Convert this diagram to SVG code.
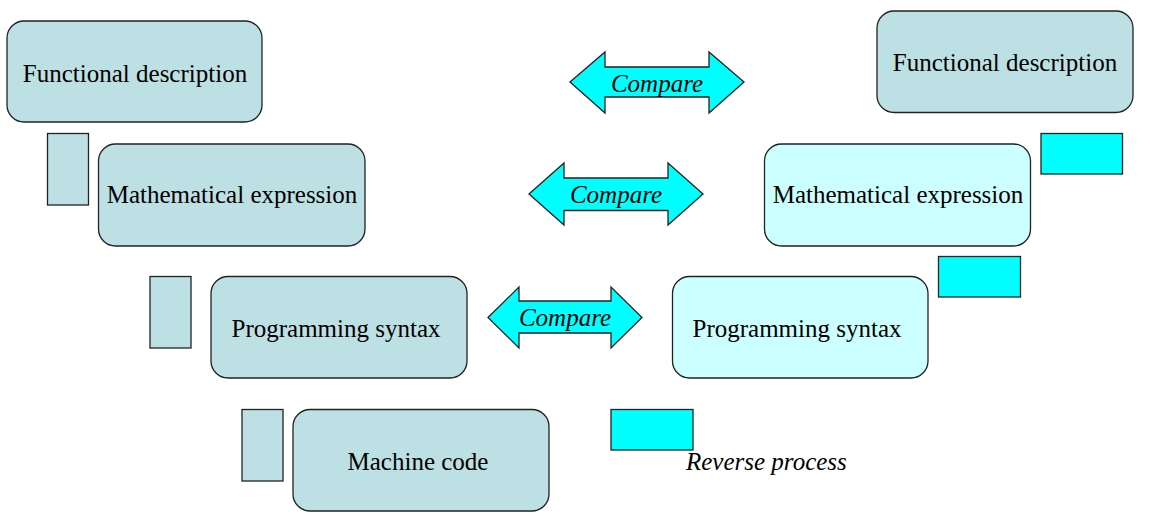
<svg xmlns="http://www.w3.org/2000/svg" width="1150" height="526" viewBox="0 0 1150 526">
<style>
.teal{fill:#bce0e3;stroke:#222;stroke-width:1.3}
.light{fill:#ccffff;stroke:#222;stroke-width:1.3}
.cyan{fill:#00ffff;stroke:#222;stroke-width:1.3}
.lbl{font-family:"Liberation Serif","Times New Roman",serif;font-size:25px;fill:#000;text-anchor:middle}
.it{font-family:"Liberation Serif","Times New Roman",serif;font-size:25px;font-style:italic;fill:#000}
</style>
<rect width="1150" height="526" fill="#fff"/>
<g id="left-functional">
<rect class="teal" x="7" y="21" width="255" height="101" rx="17"/>
<text class="lbl" x="135" y="82">Functional description</text>
</g>
<g id="left-step1"><rect class="teal" x="47.5" y="133.5" width="41" height="71.5"/></g>
<g id="left-math">
<rect class="teal" x="98.5" y="144" width="266.5" height="102" rx="17"/>
<text class="lbl" x="232" y="203">Mathematical expression</text>
</g>
<g id="left-step2"><rect class="teal" x="150" y="276.5" width="41" height="71.5"/></g>
<g id="left-prog">
<rect class="teal" x="211" y="276.5" width="256" height="101.5" rx="17"/>
<text class="lbl" x="336" y="337">Programming syntax</text>
</g>
<g id="left-step3"><rect class="teal" x="242" y="409.5" width="41" height="71.5"/></g>
<g id="machine">
<rect class="teal" x="293" y="409.5" width="256" height="101.5" rx="17"/>
<text class="lbl" x="418" y="470">Machine code</text>
</g>
<g id="right-functional">
<rect class="teal" x="877" y="11" width="256" height="101.5" rx="17"/>
<text class="lbl" x="1005" y="71">Functional description</text>
</g>
<g id="right-step1"><rect class="cyan" x="1041" y="133.5" width="81.5" height="40.5"/></g>
<g id="right-math">
<rect class="light" x="764.5" y="144" width="266" height="102" rx="17"/>
<text class="lbl" x="898" y="203">Mathematical expression</text>
</g>
<g id="right-step2"><rect class="cyan" x="938.5" y="256.5" width="82" height="40.5"/></g>
<g id="right-prog">
<rect class="light" x="672.5" y="276.5" width="255.5" height="101.5" rx="17"/>
<text class="lbl" x="797" y="337">Programming syntax</text>
</g>
<g id="legend">
<rect class="cyan" x="611" y="409.5" width="82" height="40.5"/>
<text class="it" x="686" y="470">Reverse process</text>
</g>
<g id="connectors">
<g id="compare1">
<polygon class="cyan" points="570,82 605,52 605,67 709,67 709,52 744,82 709,113 709,97 605,97 605,113"/>
<text class="it" x="657" y="92" text-anchor="middle">Compare</text>
</g>
<g id="compare2">
<polygon class="cyan" points="529,194 564,163 564,178 668,178 668,163 703,194 668,225 668,210.5 564,210.5 564,225"/>
<text class="it" x="616" y="203" text-anchor="middle">Compare</text>
</g>
<g id="compare3">
<polygon class="cyan" points="488,317.5 519,287 519,301 611,301 611,287 642,317.5 611,348 611,333 519,333 519,348"/>
<text class="it" x="565" y="326" text-anchor="middle">Compare</text>
</g>
</g>
</svg>
